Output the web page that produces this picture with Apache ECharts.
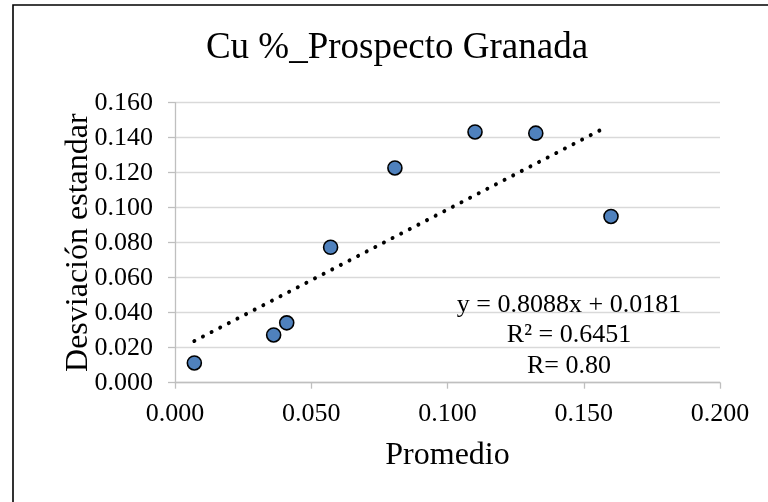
<!DOCTYPE html>
<html>
<head>
<meta charset="utf-8">
<script src="https://cdn.jsdelivr.net/npm/echarts@6/dist/echarts.min.js"></script>
<style>
html,body{margin:0;padding:0;background:#fff;}
#chart{width:768px;height:502px;}
</style>
</head>
<body>
<div id="chart"></div>
<script>
// ---- data ----
const titleText = 'Cu %_Prospecto Granada';
const xAxisName = 'Promedio';
const yAxisName = 'Desviación estandar';
const promedio = [0.0071, 0.0362, 0.0410, 0.0571, 0.0807, 0.1101, 0.1324, 0.1600];
const desviacion = [0.0113, 0.0273, 0.0342, 0.0774, 0.1227, 0.1433, 0.1426, 0.0950];
const trendSlope = 0.8088;
const trendIntercept = 0.0181;
const trendRange = [0.0071, 0.1575];
const equationLines = ['y = 0.8088x + 0.0181', 'R² = 0.6451', 'R= 0.80'];
const xTicks = [0, 0.05, 0.1, 0.15, 0.2];
const yTicks = [0, 0.02, 0.04, 0.06, 0.08, 0.1, 0.12, 0.14, 0.16];

const FONT = "'Liberation Serif','Times New Roman',serif";
const chart = echarts.init(document.getElementById('chart'), null, {renderer: 'canvas'});

const points = promedio.map((x, i) => [x, desviacion[i]]);
const trend = trendRange.map(x => [x, trendSlope * x + trendIntercept]);

const option = {
  backgroundColor: '#fff',
  animation: false,
  grid: {left: 175, right: 48, top: 102.7, bottom: 119.3, containLabel: false},
  xAxis: {
    type: 'value', min: xTicks[0], max: xTicks[xTicks.length - 1], interval: 0.05,
    name: xAxisName, nameLocation: 'middle', nameGap: 57, nameMoveOverlap: false,
    nameTextStyle: {fontFamily: FONT, fontSize: 32, color: '#000'},
    axisLine: {show: true, onZero: false, lineStyle: {color: '#bfbfbf', width: 1.3}},
    axisTick: {show: true, length: 6, lineStyle: {color: '#bfbfbf', width: 1.3}},
    axisLabel: {fontFamily: FONT, fontSize: 26, color: '#000', margin: 18,
      formatter: v => v.toFixed(3)},
    splitLine: {show: false}
  },
  yAxis: {
    type: 'value', min: yTicks[0], max: yTicks[yTicks.length - 1], interval: 0.02,
    name: yAxisName, nameLocation: 'middle', nameGap: 80, nameMoveOverlap: false,
    nameTextStyle: {fontFamily: FONT, fontSize: 32, color: '#000'},
    axisLine: {show: true, lineStyle: {color: '#bfbfbf', width: 1.3}},
    axisTick: {show: true, length: 7, lineStyle: {color: '#bfbfbf', width: 1.3}},
    axisLabel: {fontFamily: FONT, fontSize: 26, color: '#000', margin: 22,
      formatter: v => v.toFixed(3)},
    splitLine: {show: true, lineStyle: {color: '#d9d9d9', width: 1.3}}
  },
  graphic: [
    {type: 'rect', shape: {x: 13, y: 5, width: 820, height: 620}, silent: true, z: -10,
      style: {fill: 'none', stroke: '#000', lineWidth: 1.6}},
    {type: 'text', x: 397, y: 48, z: 10,
      style: {text: titleText, font: "37px " + FONT, fill: '#000', textAlign: 'center', textVerticalAlign: 'middle'}},
    {type: 'text', x: 569, y: 305.5, z: 10,
      style: {text: equationLines[0], font: "26px " + FONT, fill: '#000', textAlign: 'center', textVerticalAlign: 'middle'}},
    {type: 'text', x: 569, y: 335.3, z: 10,
      style: {text: equationLines[1], font: "26px " + FONT, fill: '#000', textAlign: 'center', textVerticalAlign: 'middle'}},
    {type: 'text', x: 569, y: 366, z: 10,
      style: {text: equationLines[2], font: "26px " + FONT, fill: '#000', textAlign: 'center', textVerticalAlign: 'middle'}}
  ],
  series: [
    {
      type: 'line', data: trend, showSymbol: false, symbol: 'none', z: 2,
      lineStyle: {color: '#000', width: 4, type: [0.01, 9.7], cap: 'round'}
    },
    {
      type: 'scatter', data: points, symbol: 'circle', symbolSize: 14, z: 3,
      itemStyle: {color: '#4f81bd', borderColor: '#000', borderWidth: 1.6, opacity: 1}
    }
  ]
};
chart.setOption(option);
</script>
</body>
</html>
